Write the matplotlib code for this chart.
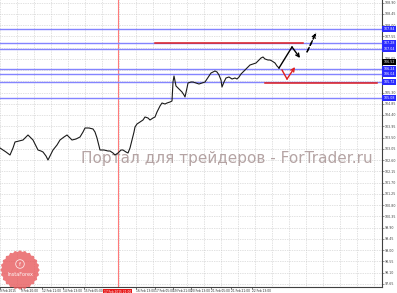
import numpy as np
import matplotlib
matplotlib.use("Agg")
import matplotlib.pyplot as plt
from matplotlib.patches import Polygon, Circle
from matplotlib.transforms import blended_transform_factory

# ---------------- data ----------------
bar_x = [0, 3, 6, 10, 13, 15, 19, 23, 26, 28, 31, 33, 36, 38, 41, 43, 46, 48, 50, 53,
         57, 60, 64, 67, 70, 72, 76, 80, 83, 85, 89, 93, 95, 97, 99, 100, 104, 108, 110, 113,
         115, 118, 121, 123, 126, 128, 130, 132, 134, 135, 137, 140, 143, 145, 148, 150, 153, 155, 157, 160,
         162, 165, 167, 170, 172,
         173, 174, 176, 178, 180, 182, 184, 185, 187, 188, 191, 193, 196, 199, 202, 205, 207, 209, 211,
         213, 215, 217, 219, 221, 222, 224, 226, 229, 232, 235, 237, 239, 241, 243, 245, 247, 250, 253,
         256, 259, 261, 263, 265, 268, 270, 272, 275, 277, 279]
close = [103.08, 103.00, 102.92, 102.80, 103.08, 103.32, 103.36, 103.40, 103.52, 103.60,
         103.48, 103.40, 103.16, 103.00, 102.96, 102.92, 102.76, 102.60, 102.76, 103.00,
         103.20, 103.40, 103.52, 103.60, 103.48, 103.40, 103.44, 103.52, 103.72, 103.88,
         103.88, 103.84, 103.72, 103.48, 103.16, 103.00, 103.00, 102.96, 102.96, 102.88,
         102.80, 102.88, 103.00, 103.00, 102.92, 102.88, 103.08, 103.40, 103.72, 103.92,
         104.04, 104.12, 104.20, 104.32, 104.28, 104.20, 104.28, 104.32, 104.52, 104.76,
         104.88, 104.84, 104.88, 104.92, 104.96,
         105.72, 105.96, 105.56, 105.48, 105.40, 105.32, 105.20, 105.12, 105.48, 105.68,
         105.72, 105.72, 105.68, 105.64, 105.68, 105.72, 105.84, 105.96, 106.08, 106.12,
         106.16, 106.12, 106.00, 105.80, 105.52, 105.72, 105.88, 105.92, 105.84, 105.88,
         105.84, 105.92, 106.04, 106.12, 106.20, 106.28, 106.40, 106.44, 106.48, 106.60,
         106.68, 106.72, 106.64, 106.60, 106.60, 106.56, 106.48, 106.36, 106.28]

level_prices = [107.84, 107.28, 107.04, 106.24, 106.04, 105.72, 105.08]
level_labels = ["107.84", "107.28", "107.04", "106.24", "106.04", "105.72", "105.08"]
current_price = 106.52
current_label = "106.52"

red_levels = [107.28, 105.68]
red_from = [155, 265]
red_to = [303, 377]

fc_x = [279, 292, 300]
fc_y = [106.28, 107.12, 106.68]
fc2_x = [307, 316]
fc2_y = [106.92, 107.68]
alt_x = [282, 287, 295]
alt_y = [106.20, 105.84, 106.32]

vline_x = 118
vline_label = "17 Feb 2015 21:00"

y_ticks = [round(108.90 - 0.45 * k, 2) for k in range(26)]
time_x = [0, 21, 42, 63, 84, 136, 155, 173, 191, 211, 231, 252]
time_labels = ["9 Feb 2015", "9 Feb 20:00", "12 Feb 11:00", "14 Feb 13:00", "15 Feb 05:00",
               "16 Feb 13:00", "17 Feb 05:00", "19 Feb 21:00", "20 Feb 13:00",
               "21 Feb 05:00", "21 Feb 21:00", "22 Feb 13:00"]
grid_x = [0, 17, 34, 51, 68, 85, 102, 119, 136, 153, 170, 187, 204, 221, 238, 255, 272, 289,
          306, 323, 340, 357, 374]

watermark = "Портал для трейдеров - ForTrader.ru"

# ---------------- figure ----------------
W, H = 397, 293
fig = plt.figure(figsize=(W / 100, H / 100), dpi=100)
fig.patch.set_facecolor("white")
ax = fig.add_axes([0, 6 / H, 382 / W, 287 / H])
ax.set_xlim(0, 382)
ax.set_ylim(97.52, 109.0)
ax.set_facecolor("white")

for s in ["left", "top"]:
    ax.spines[s].set_visible(False)
for s in ["right", "bottom"]:
    ax.spines[s].set_color("#404040")
    ax.spines[s].set_linewidth(0.8)

# grid
for gx in grid_x:
    ax.axvline(gx, color="#c4c4c4", lw=0.5, ls=(0, (1, 1.5)), zorder=0)
for gy in y_ticks:
    ax.axhline(gy, color="#c4c4c4", lw=0.5, ls=(0, (1, 1.5)), zorder=0)

# y axis on right
ax.yaxis.tick_right()
ax.set_yticks(y_ticks)
ax.set_yticklabels([f"{v:.2f}" for v in y_ticks], fontsize=2.3, color="#202020")
ax.tick_params(axis="y", length=1.2, width=0.4, pad=0.8, colors="#404040")

# x axis
ax.set_xticks(time_x)
ax.set_xticklabels(time_labels, fontsize=2.1, color="#202020", ha="left")
ax.tick_params(axis="x", length=1.2, width=0.4, pad=0.6)

# vertical red line
ax.axvline(vline_x, color="#ff7a7a", lw=0.8, zorder=1)

# level lines
for p in level_prices:
    ax.axhline(p, color="#8484ff", lw=1.0, zorder=2)
for p, a, b in zip(red_levels, red_from, red_to):
    ax.plot([a, b], [p, p], color="#e01e1e", lw=1.1, zorder=3)

# watermark
ax.text(81, 109.0 - 0.04 * 163, watermark, fontsize=11, color="#a89494",
        alpha=0.85, ha="left", va="baseline", zorder=1)

# price series
ax.plot(bar_x, close, color="#1a1a1a", lw=0.8, zorder=5)

# forecasts
ax.plot(fc_x[:-1], fc_y[:-1], color="black", lw=1.0, zorder=6)
ax.annotate("", xy=(fc_x[-1], fc_y[-1]), xytext=(fc_x[-2], fc_y[-2]),
            arrowprops=dict(arrowstyle="->", color="black", lw=1.0,
                            shrinkA=0, shrinkB=0, mutation_scale=6), zorder=6)
ax.plot(fc2_x, fc2_y, color="black", lw=1.0, ls=(0, (3, 2)), zorder=6)
ax.annotate("", xy=(fc2_x[-1], fc2_y[-1]), xytext=(fc2_x[-2], fc2_y[-2]),
            arrowprops=dict(arrowstyle="->", color="black", lw=1.0,
                            shrinkA=0, shrinkB=0, mutation_scale=6, linestyle="dashed"),
            zorder=6)
ax.plot(alt_x[:-1], alt_y[:-1], color="#e01e1e", lw=1.0, zorder=6)
ax.annotate("", xy=(alt_x[-1], alt_y[-1]), xytext=(alt_x[-2], alt_y[-2]),
            arrowprops=dict(arrowstyle="->", color="#e01e1e", lw=1.0,
                            shrinkA=0, shrinkB=0, mutation_scale=6), zorder=6)

# right-axis price labels
tr = blended_transform_factory(ax.transAxes, ax.transData)
for p, lab in zip(level_prices, level_labels):
    ax.text(1.004, p, lab, transform=tr, fontsize=2.3, color="white", va="center",
            ha="left", clip_on=False, zorder=10,
            bbox=dict(boxstyle="square,pad=0.4", fc="#2a2aff", ec="none"))
ax.text(1.004, current_price, current_label, transform=tr, fontsize=2.3, color="white",
        va="center", ha="left", clip_on=False, zorder=10,
        bbox=dict(boxstyle="square,pad=0.4", fc="black", ec="none"))

# red time label for vertical line
trx = blended_transform_factory(ax.transData, ax.transAxes)
ax.text(vline_x - 14, -0.011, vline_label, transform=trx, fontsize=2.1, color="white",
        va="top", ha="left", clip_on=False, zorder=10,
        bbox=dict(boxstyle="square,pad=0.35", fc="#e81818", ec="none"))

# InstaForex logo
lax = fig.add_axes([0, 3 / H, 40 / W, 40 / H])
lax.set_xlim(0, 40)
lax.set_ylim(0, 40)
lax.axis("off")
n = 48
ang = np.linspace(0, 2 * np.pi, n, endpoint=False)
rad = np.where(np.arange(n) % 2 == 0, 19.8, 18.2)
pts = np.column_stack([20 + rad * np.cos(ang), 20 + rad * np.sin(ang)])
lax.add_patch(Polygon(pts, closed=True, fc="#e85a5c", ec="none", alpha=0.8))
lax.add_patch(Circle((20, 26), 4.3, fc="none", ec="white", lw=0.6, alpha=0.8))
lax.text(20, 26, "f", fontsize=4, color="white", ha="center", va="center", alpha=0.9)
lax.text(20, 15.5, "InstaForex", fontsize=3.6, color="white", ha="center",
         va="center", alpha=0.95)

fig.savefig("out.png", dpi=100, facecolor="white")
